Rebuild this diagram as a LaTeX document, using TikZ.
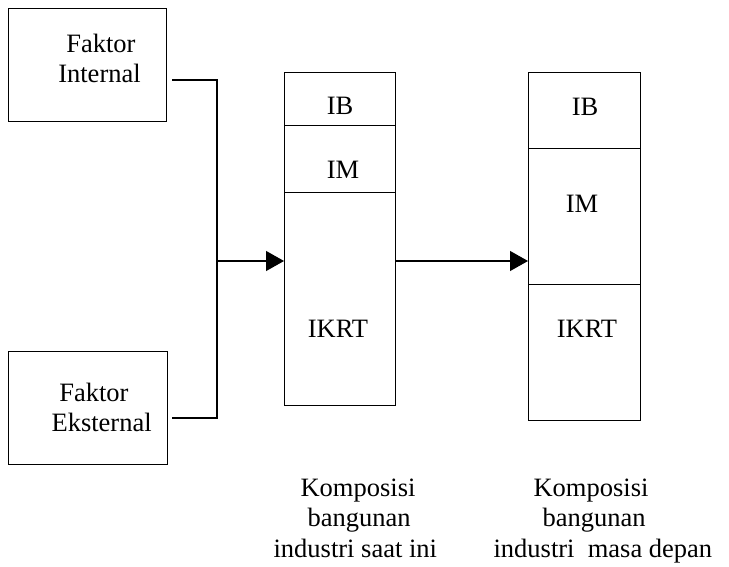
\documentclass[tikz,border=0pt]{standalone}
\usepackage{fontspec}
\setmainfont{Liberation Serif}
\usetikzlibrary{arrows.meta}
\begin{document}
\begin{tikzpicture}[x=1pt,y=-1pt,
  line width=1.2pt,
  box/.style={draw, rectangle, inner sep=0pt, anchor=north west},
  txt/.style={inner sep=0pt, font=\fontsize{26.5}{30.5}\selectfont},
  lbl/.style={txt, anchor=base west, align=left},
  cell/.style={txt, anchor=base},
  tip/.style={-{Triangle[length=18pt,width=20pt]}}
]
\useasboundingbox (0,0) rectangle (729,567);

% factor boxes (text nodes are placed by the baseline of their last line)
\node[box, minimum width=158pt, minimum height=113pt] (intl) at (8,8) {};
\node[lbl] (intlText) at (57.7,82.7) {\hspace*{8pt}Faktor\\Internal};
\node[box, minimum width=159pt, minimum height=113pt] (extl) at (8,351) {};
\node[lbl] (extlText) at (51,431.7) {\hspace*{7.7pt}Faktor\\Eksternal};

% current composition column
\node[box, minimum width=111pt, minimum height=53pt] (nowIB) at (284,72) {};
\node[box, minimum width=111pt, minimum height=67pt] (nowIM) at (284,125) {};
\node[box, minimum width=111pt, minimum height=213pt] (nowIKRT) at (284,192) {};
\node[cell] (nowIBtext) at (340,115) {IB};
\node[cell] (nowIMtext) at (343,179) {IM};
\node[cell] (nowIKRTtext) at (338,337) {IKRT};

% future composition column
\node[box, minimum width=112pt, minimum height=76pt] (futIB) at (528,72) {};
\node[box, minimum width=112pt, minimum height=136pt] (futIM) at (528,148) {};
\node[box, minimum width=112pt, minimum height=136pt] (futIKRT) at (528,284) {};
\node[cell] (futIBtext) at (585,116) {IB};
\node[cell] (futIMtext) at (582,212) {IM};
\node[cell] (futIKRTtext) at (587,337) {IKRT};

% captions
\node[lbl] (nowCap) at (273,557) {\hspace*{27pt}Komposisi\\\hspace*{34pt}bangunan\\industri saat ini};
\node[lbl] (futCap) at (493,557) {\hspace*{40pt}Komposisi\\\hspace*{49pt}bangunan\\industri\ \ masa depan};

% connectors
\coordinate (intlOut) at (172,80);
\coordinate (extlOut) at (172,418);
\coordinate (busTop) at (217,80);
\coordinate (busBot) at (217,418);
\coordinate (merge) at (217,261);
\draw (intlOut) -- (busTop) -- (busBot) -- (extlOut);
\draw[tip] (merge) -- (merge -| nowIKRT.west);
\draw[tip] (merge -| nowIKRT.east) -- (merge -| futIM.west);
\end{tikzpicture}
\end{document}
